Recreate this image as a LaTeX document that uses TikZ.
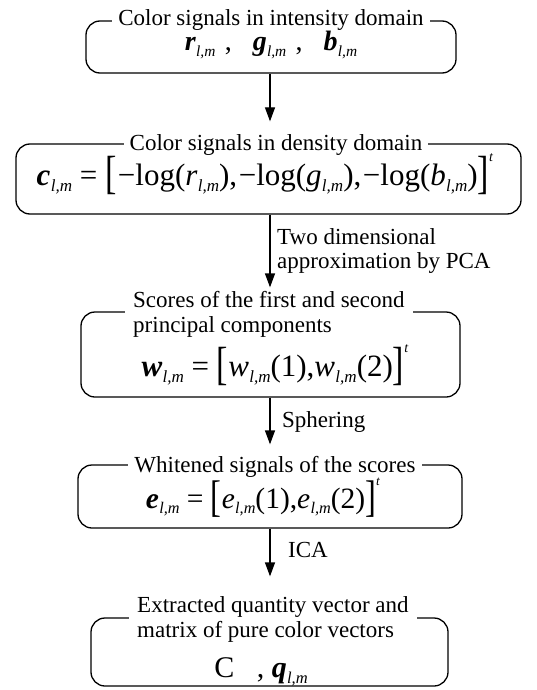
\documentclass[tikz,border=0pt]{standalone}
\usepackage{fontspec}
\setmainfont{Liberation Serif}
\usepackage{graphicx}
\usetikzlibrary{arrows.meta}
\newcommand\sbs[1]{\kern0.3pt\raisebox{-0.2em}{\scalebox{0.55}{\textit{#1}}}}
\newcommand\bvec[1]{\textbf{\textit{#1}}}
\newcommand\lbr{\raisebox{-0.12em}{\scalebox{1.1}[1.5]{[}}}
\newcommand\rbr{\raisebox{-0.12em}{\scalebox{1.1}[1.5]{]}}}
\newcommand\tsup{\raisebox{0.75em}{\scalebox{0.45}{\textit{t}}}}
\newcommand\mns{\kern0.05em−}
\begin{document}
\begin{tikzpicture}[x=1pt,y=-1pt,
  box/.style={draw,line width=1.3pt,rounded corners=14pt,inner sep=0pt},
  ttl/.style={fill=white,inner xsep=6pt,inner ysep=1pt,text depth=1pt,font=\fontsize{23}{25}\selectfont},
  ttlp/.style={inner sep=0pt,font=\fontsize{23}{25}\selectfont},
  lbl/.style={inner sep=0pt,anchor=base west,font=\fontsize{23}{25}\selectfont},
  fml/.style={inner sep=0pt,anchor=base,font=\fontsize{29}{32}\selectfont},
  arr/.style={-{Triangle[length=14pt,width=10pt]},line width=1.3pt}]
\useasboundingbox (0,0) rectangle (536,690);
% boxes
\node[box,minimum width=370pt,minimum height=52pt] (b1) at (271,47) {};
\node[box,minimum width=505pt,minimum height=70pt] (b2) at (268.5,179) {};
\node[box,minimum width=379pt,minimum height=85pt] (b3) at (270.5,354.5) {};
\node[box,minimum width=384pt,minimum height=63pt] (b4) at (270,496.5) {};
\node[box,minimum width=357pt,minimum height=68pt] (b5) at (269.5,652) {};
% titles
\node[ttl,anchor=base] (t1) at (271,26) {Color signals in intensity domain};
\node[ttl,anchor=base] (t2) at (276,150) {Color signals in density domain};
\node[ttl,anchor=base west,inner xsep=8pt,text depth=6pt] (t3) at (125,307) {Scores of the first and second};
\node[ttlp,anchor=base west] (t3b) at (133,332) {principal components};
\node[ttl,anchor=base] (t4) at (275,472) {Whitened signals of the scores};
\node[ttl,anchor=base west,inner xsep=8pt,text depth=7pt] (t5) at (129,612) {Extracted quantity vector and};
\node[ttlp,anchor=base west] (t5b) at (137,637) {matrix of pure color vectors};
% formulas
\node[fml,font=\fontsize{28}{30}\selectfont] (f1) at (271,51) {\bvec{r}\sbs{l,m}\,\,,\ \ \ \bvec{g}\sbs{l,m}\,\,,\ \ \ \bvec{b}\sbs{l,m}};
\node[fml,font=\fontsize{31}{34}\selectfont] (f2) at (265,185) {\bvec{c}\sbs{l,m} = \lbr\mns log(\textit{r}\sbs{l,m}),\mns log(\textit{g}\sbs{l,m}),\mns log(\textit{b}\sbs{l,m})\rbr\tsup};
\node[fml,font=\fontsize{31}{34}\selectfont] (f3) at (275,376) {\bvec{w}\sbs{l,m} = \lbr\textit{w}\sbs{l,m}(1),\textit{w}\sbs{l,m}(2)\rbr\tsup};
\node[fml,font=\fontsize{29.5}{32}\selectfont] (f4) at (263,508) {\bvec{e}\sbs{l,m} = \lbr\textit{e}\sbs{l,m}(1),\textit{e}\sbs{l,m}(2)\rbr\tsup};
\node[fml,font=\fontsize{30}{32}\selectfont] (f5) at (261,677) {C\ \ \ ,\ \bvec{q}\sbs{l,m}};
% arrow labels
\node[lbl] (l2a) at (277,244) {Two dimensional};
\node[lbl] (l2b) at (277,268) {approximation by PCA};
\node[lbl] (l3) at (282,427) {Sphering};
\node[lbl] (l4) at (288,557) {ICA};
% arrows
\coordinate (ax) at (270,0);
\draw[arr] (b1.south -| ax) -- ([yshift=22pt]b2.north -| ax);
\draw[arr] (b2.south -| ax) -- ([yshift=24pt]b3.north -| ax);
\draw[arr] (b3.south -| ax) -- ([yshift=20pt]b4.north -| ax);
\draw[arr] (b4.south -| ax) -- ([yshift=41pt]b5.north -| ax);
\end{tikzpicture}
\end{document}
